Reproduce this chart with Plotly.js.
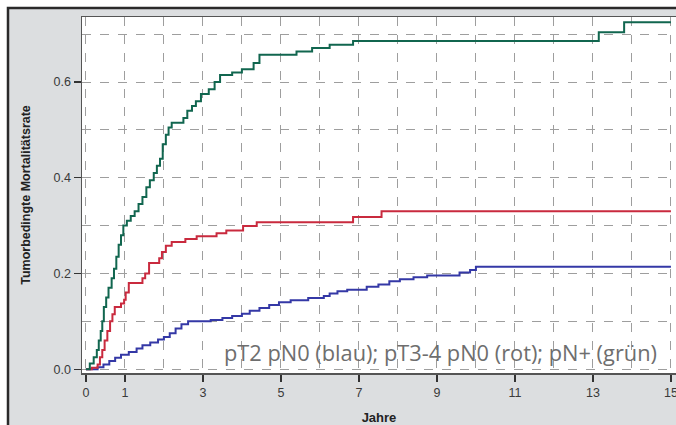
<!DOCTYPE html>
<html><head><meta charset="utf-8">
<script src="https://cdn.plot.ly/plotly-3.0.1.min.js"></script>
<style>html,body{margin:0;padding:0;background:#fff}</style>
</head><body><div id="chart" style="width:676px;height:425px"></div>
<script>
// pN+ (grün)
const greenT = [0,0.1,0.2,0.28,0.33,0.38,0.42,0.46,0.52,0.58,0.66,0.72,0.78,0.84,0.9,0.96,1.05,1.15,1.25,1.35,1.45,1.55,1.64,1.74,1.82,1.9,1.97,2.05,2.12,2.2,2.5,2.6,2.72,2.82,2.95,3.15,3.3,3.44,3.75,4.0,4.3,4.45,5.4,5.8,6.25,6.85,13.15,13.8,15];
const greenV = [0,0.012,0.025,0.04,0.06,0.08,0.10,0.13,0.15,0.17,0.19,0.21,0.235,0.26,0.28,0.30,0.31,0.32,0.33,0.345,0.36,0.38,0.395,0.41,0.425,0.44,0.47,0.49,0.505,0.515,0.525,0.54,0.55,0.56,0.575,0.585,0.6,0.615,0.62,0.627,0.64,0.657,0.664,0.671,0.678,0.686,0.704,0.725,0.725];
// pT3-4 pN0 (rot)
const redT = [0,0.15,0.3,0.36,0.42,0.48,0.55,0.62,0.68,0.74,0.9,0.98,1.02,1.1,1.45,1.52,1.62,1.88,1.95,2.05,2.2,2.55,2.84,3.35,3.6,4.03,4.38,6.85,7.58,15];
const redV = [0,0.003,0.01,0.025,0.04,0.06,0.08,0.1,0.115,0.13,0.137,0.145,0.16,0.18,0.19,0.2,0.222,0.232,0.245,0.258,0.266,0.272,0.278,0.284,0.29,0.299,0.307,0.318,0.33,0.33];
// pT2 pN0 (blau)
const blueT = [0,0.3,0.45,0.6,0.75,0.9,1.1,1.3,1.45,1.65,1.85,2.0,2.15,2.3,2.45,2.62,3.2,3.5,3.75,4.0,4.2,4.45,4.7,4.95,5.25,5.7,6.1,6.25,6.45,6.7,7.2,7.5,7.78,8.05,8.4,8.75,9.58,9.85,10.0,15];
const blueV = [0,0.004,0.01,0.017,0.024,0.03,0.036,0.043,0.05,0.056,0.062,0.067,0.075,0.085,0.094,0.1,0.103,0.107,0.111,0.116,0.122,0.128,0.134,0.14,0.144,0.149,0.153,0.158,0.163,0.166,0.172,0.177,0.184,0.188,0.192,0.196,0.202,0.207,0.214,0.214];

const xTicks = [0,1,3,5,7,9,11,13,15];
const yTicks = [0,0.2,0.4,0.6];
const yTickText = ['0.0','0.2','0.4','0.6'];
const caption = 'pT2 pN0 (blau); pT3-4 pN0 (rot); pN+ (grün)';

const mk = (x,y,c,n)=>({x:x,y:y,type:'scatter',mode:'lines',name:n,line:{shape:'hv',color:c,width:2},hoverinfo:'skip'});
const data = [
  mk(blueT,blueV,'#3438a6','pT2 pN0'),
  mk(redT,redV,'#c92a3e','pT3-4 pN0'),
  mk(greenT,greenV,'#11664f','pN+')
];

const L=82,T=17,W=594,H=356;
const px=(p)=>(p-L)/W, py=(p)=>(T+H-p)/H;
const FONT='Liberation Sans, Arial, sans-serif';

const layout = {
  width:676,height:425,
  margin:{l:L,r:0,t:T,b:425-T-H,pad:0},
  paper_bgcolor:'#ffffff',
  plot_bgcolor:'rgba(0,0,0,0)',
  showlegend:false,
  font:{family:FONT,color:'#3a3a3a',size:12},
  xaxis:{
    range:[-0.1,15.13],
    tickmode:'array',tickvals:xTicks,ticktext:xTicks.map(String),
    ticks:'outside',ticklen:7,tickwidth:1.3,tickcolor:'#333',
    ticklabeloverflow:'allow',
    showline:true,linecolor:'#555',linewidth:1.5,mirror:true,
    showgrid:true,gridcolor:'#9e9e9e',griddash:'dash',gridwidth:1,
    minor:{tickmode:'linear',tick0:0,dtick:1,showgrid:true,gridcolor:'#9e9e9e',griddash:'dash',gridwidth:1,ticks:''},
    zeroline:false,
    tickfont:{size:12.5,color:'#3a3a3a'},
    title:{text:'Jahre',font:{size:13,color:'#222',family:FONT,weight:'bold'},standoff:14}
  },
  yaxis:{
    range:[-0.008,0.736],
    tickmode:'array',tickvals:yTicks,ticktext:yTickText,
    ticks:'outside',ticklen:7,tickwidth:1.3,tickcolor:'#333',
    showline:true,linecolor:'#555',linewidth:1.5,
    showgrid:true,gridcolor:'#9e9e9e',griddash:'dash',gridwidth:1,
    minor:{tickmode:'linear',tick0:0,dtick:0.1,showgrid:true,gridcolor:'#9e9e9e',griddash:'dash',gridwidth:1,ticks:''},
    zeroline:false,
    tickfont:{size:12.5,color:'#3a3a3a'},
    title:{text:'Tumorbedingte Mortalitätsrate',font:{size:12.5,color:'#222',family:FONT,weight:'bold'},standoff:20}
  },
  shapes:[
    {type:'rect',xref:'paper',yref:'paper',layer:'below',x0:px(8),x1:px(690),y0:py(440),y1:py(8),
     fillcolor:'#dcdee0',line:{color:'#2a2a2a',width:2.5}},
    {type:'rect',xref:'paper',yref:'paper',layer:'below',x0:0,x1:1,y0:0,y1:1,
     fillcolor:'#ffffff',line:{width:0}}
  ],
  annotations:[
    {xref:'paper',yref:'paper',x:px(222),y:py(352),xanchor:'left',yanchor:'middle',showarrow:false,
     text:caption,font:{family:'Open Sans, Noto Sans, sans-serif',size:21.8,color:'#6e6e6e'}}
  ]
};
Plotly.newPlot('chart',data,layout,{staticPlot:true,displayModeBar:false});
</script></body></html>
